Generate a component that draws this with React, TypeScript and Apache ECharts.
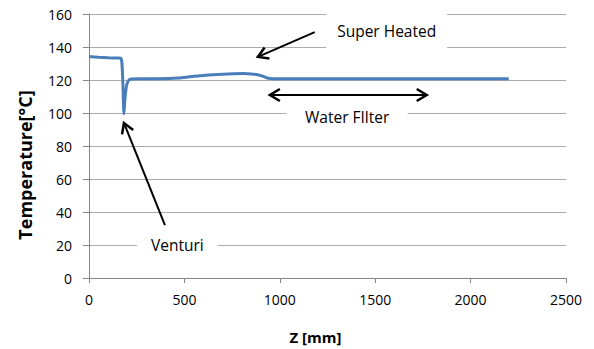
import React, { useEffect, useRef } from "react";
import * as echarts from "echarts";

// Position along the device, Z [mm]
const zValues = [
  0, 50, 100, 150, 166, 172, 177, 183, 188, 196, 206, 220, 260, 350, 420, 470,
  510, 550, 600, 650, 700, 760, 810, 850, 885, 910, 935, 960, 1000, 1500, 2000, 2200,
];
// Temperature [°C]
const temperatures = [
  134.2, 133.8, 133.5, 133.3, 133.2, 131, 120, 99.5, 108, 116, 119.5, 120.6, 120.8, 120.8, 120.9, 121.2,
  121.7, 122.3, 122.8, 123.2, 123.5, 123.8, 123.9, 123.7, 123.2, 122.3, 121.2, 120.8, 120.8, 120.8, 120.8, 120.8,
];

const xMin = 0;
const xMax = 2500;
const xStep = 500;
const yMin = 0;
const yMax = 160;
const yStep = 20;

// Annotation labels (data coordinates of their centres)
const labelTexts = ["Super Heated", "Water FIlter", "Venturi"];
const labelZ = [1560, 1353, 463];
const labelT = [150, 97.3, 20];
const labelBoxW = [121, 121, 81];
const labelBoxH = [35, 28, 28];

// Arrows: start (z,t) -> end (z,t), double headed or not
const arrowFromZ = [1183, 948, 398];
const arrowFromT = [149, 110.9, 32];
const arrowToZ = [885, 1770, 183];
const arrowToT = [134, 110.9, 94];
const arrowDouble = [false, true, false];

const FONT = "'Open Sans', 'Noto Sans', sans-serif";

export default function App() {
  const ref = useRef<HTMLDivElement>(null);

  useEffect(() => {
    if (!ref.current) return;
    document.body.style.margin = "0";
    const chart = echarts.init(ref.current, null, { renderer: "svg" });
    const data = zValues.map((z, i) => [z, temperatures[i]]);
    chart.setOption({
      animation: false,
      backgroundColor: "#ffffff",
      grid: { left: 89, right: 28, top: 14, bottom: 71, containLabel: false },
      xAxis: {
        type: "value",
        min: xMin,
        max: xMax,
        interval: xStep,
        axisLine: { show: true, lineStyle: { color: "#868686", width: 1 } },
        axisTick: { show: true, inside: false, length: 5, lineStyle: { color: "#868686" } },
        splitLine: { show: false },
        axisLabel: {
          color: "#000",
          fontFamily: FONT,
          fontSize: 14,
          margin: 14,
          formatter: (v: number) => String(v),
        },
      },
      yAxis: {
        type: "value",
        min: yMin,
        max: yMax,
        interval: yStep,
        axisLine: { show: true, lineStyle: { color: "#868686", width: 1 } },
        axisTick: { show: true, inside: false, length: 6, lineStyle: { color: "#868686" } },
        splitLine: { show: true, lineStyle: { color: "#ababab", width: 1 } },
        axisLabel: {
          color: "#000",
          fontFamily: FONT,
          fontSize: 14,
          margin: 17,
          formatter: (v: number) => String(v),
        },
      },
      series: [
        {
          type: "line",
          data,
          smooth: 0.25,
          showSymbol: false,
          symbol: "none",
          lineStyle: { color: "#4a7ebb", width: 3 },
          z: 3,
        },
      ],
    });

    const px = (z: number, t: number) =>
      chart.convertToPixel({ xAxisIndex: 0, yAxisIndex: 0 }, [z, t]) as number[];

    const graphics: any[] = [];
    labelTexts.forEach((txt, i) => {
      const [cx, cy] = px(labelZ[i], labelT[i]);
      graphics.push({
        type: "rect",
        shape: { x: cx - labelBoxW[i] / 2, y: cy - labelBoxH[i] / 2, width: labelBoxW[i], height: labelBoxH[i] },
        style: { fill: "#ffffff" },
        z: 10,
      });
      graphics.push({
        type: "text",
        x: cx,
        y: cy,
        style: {
          text: txt,
          fill: "#000",
          font: `15.5px ${FONT}`,
          textAlign: "center",
          textVerticalAlign: "middle",
        },
        z: 11,
      });
    });

    const head = (p: number[], q: number[]) => {
      const dx = q[0] - p[0];
      const dy = q[1] - p[1];
      const len = Math.hypot(dx, dy);
      const ux = dx / len;
      const uy = dy / len;
      const L = 10;
      const W = 6;
      return [
        [q[0] - ux * L - uy * W, q[1] - uy * L + ux * W],
        [q[0], q[1]],
        [q[0] - ux * L + uy * W, q[1] - uy * L - ux * W],
      ];
    };

    arrowFromZ.forEach((_, i) => {
      const a = px(arrowFromZ[i], arrowFromT[i]);
      const b = px(arrowToZ[i], arrowToT[i]);
      graphics.push({
        type: "line",
        shape: { x1: a[0], y1: a[1], x2: b[0], y2: b[1] },
        style: { stroke: "#000", lineWidth: 2 },
        z: 12,
      });
      graphics.push({
        type: "polyline",
        shape: { points: head(a, b) },
        style: { stroke: "#000", lineWidth: 2.5, fill: null },
        z: 12,
      });
      if (arrowDouble[i]) {
        graphics.push({
          type: "polyline",
          shape: { points: head(b, a) },
          style: { stroke: "#000", lineWidth: 2.5, fill: null },
          z: 12,
        });
      }
    });

    graphics.push({
      type: "text",
      x: 25,
      y: 165,
      rotation: Math.PI / 2,
      style: {
        text: "Temperature[°C]",
        fill: "#000",
        font: `bold 18px ${FONT}`,
        textAlign: "center",
        textVerticalAlign: "middle",
      },
      z: 12,
    });
    graphics.push({
      type: "text",
      x: 315.5,
      y: 337,
      style: {
        text: "Z [mm]",
        fill: "#000",
        font: `bold 15px ${FONT}`,
        textAlign: "center",
        textVerticalAlign: "middle",
      },
      z: 12,
    });

    chart.setOption({ graphic: graphics });

    return () => chart.dispose();
  }, []);

  return <div ref={ref} style={{ width: 594, height: 349 }} />;
}
